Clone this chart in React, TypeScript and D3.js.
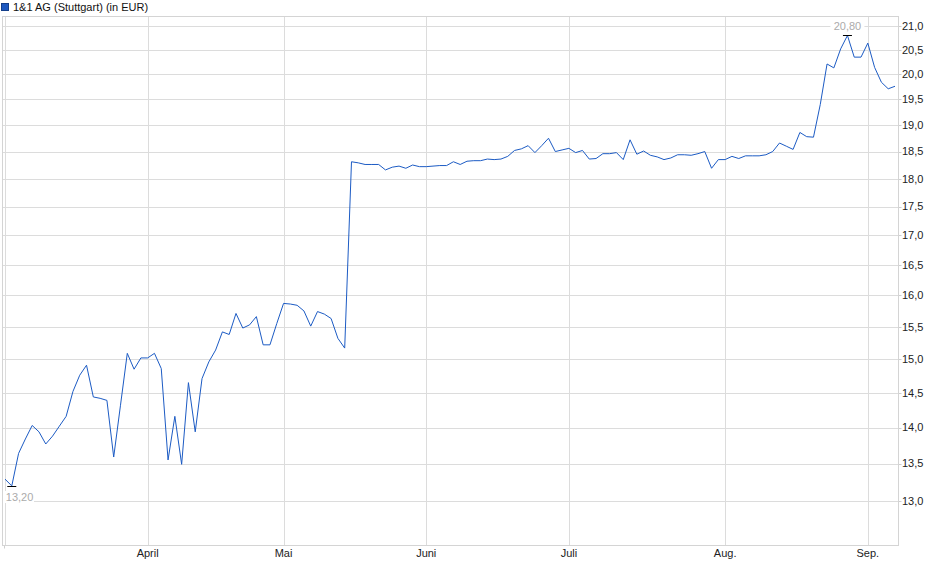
import { useMemo } from 'react';
import * as d3 from 'd3';

// closing prices, one per trading day (3 Mar - 5 Sep)
const prices = [
  13.29, 13.2, 13.64, 13.84, 14.03, 13.94, 13.77, 13.88, 14.02, 14.16,
  14.52, 14.76, 14.91, 14.44, 14.42, 14.39, 13.59, 14.32, 15.09, 14.85,
  15.02, 15.02, 15.09, 14.86, 13.55, 14.16, 13.49, 14.65, 13.94, 14.71,
  14.96, 15.14, 15.42, 15.38, 15.71, 15.48, 15.53, 15.66, 15.22, 15.22,
  15.55, 15.87, 15.86, 15.84, 15.75, 15.51, 15.74, 15.7, 15.63, 15.32,
  15.17, 18.31, 18.29, 18.26, 18.26, 18.26, 18.16, 18.21, 18.23, 18.19,
  18.25, 18.22, 18.22, 18.23, 18.24, 18.24, 18.31, 18.26, 18.32, 18.33,
  18.33, 18.36, 18.35, 18.36, 18.41, 18.52, 18.55, 18.61, 18.48, 18.61,
  18.75, 18.5, 18.53, 18.56, 18.48, 18.52, 18.36, 18.37, 18.46, 18.46,
  18.48, 18.35, 18.72, 18.45, 18.51, 18.43, 18.4, 18.35, 18.38, 18.44,
  18.44, 18.43, 18.46, 18.5, 18.19, 18.35, 18.35, 18.41, 18.37, 18.42,
  18.42, 18.42, 18.44, 18.5, 18.66, 18.6, 18.54, 18.86, 18.78, 18.77,
  19.4, 20.21, 20.13, 20.52, 20.8, 20.35, 20.35, 20.64, 20.14, 19.84,
  19.71, 19.76,
];

// month starts as trading-day index
const monthLabels = ['', 'April', 'Mai', 'Juni', 'Juli', 'Aug.', 'Sep.'];
const monthStarts = [0, 21, 41, 62, 83, 106, 127];

const yTicks = [13, 13.5, 14, 14.5, 15, 15.5, 16, 16.5, 17, 17.5, 18, 18.5, 19, 19.5, 20, 20.5, 21];

const title = '1&1 AG (Stuttgart) (in EUR)';

const W = 940;
const H = 579;
const plot = { left: 2.5, top: 16.5, right: 898.5, bottom: 545.5 };
const font = '"Liberation Sans", Arial, sans-serif';
const fmt = (v: number, d: number) => v.toFixed(d).replace('.', ',');

export default function App() {
  const x = useMemo(() => d3.scaleLinear().domain([0, prices.length - 1]).range([5, 895]), []);
  const y = useMemo(() => d3.scaleLog().domain([12.435, 21.213]).range([545, 16]), []);

  const line = d3.line<number>()
    .x((_, i) => x(i))
    .y(d => y(d));

  const minIdx = d3.minIndex(prices);
  const maxIdx = d3.maxIndex(prices);
  const minX = x(minIdx), minY = y(prices[minIdx]);
  const maxX = x(maxIdx), maxY = y(prices[maxIdx]);

  return (
    <svg width={W} height={H} style={{ position: 'absolute', left: 0, top: 0, background: '#fff' }}
      fontFamily={font} fontSize={11}>
      {/* legend */}
      <rect x={1.5} y={3.5} width={7} height={7} fill="#1d58c0" stroke="#143f8a" />
      <text x={13} y={11} fill="#111">{title}</text>

      {/* horizontal grid + right axis */}
      {yTicks.map(t => (
        <g key={t}>
          <line x1={plot.left} x2={plot.right} y1={Math.round(y(t)) + 0.5} y2={Math.round(y(t)) + 0.5}
            stroke="#dcdcdc" />
          <line x1={plot.right} x2={plot.right + 3} y1={Math.round(y(t)) + 0.5} y2={Math.round(y(t)) + 0.5}
            stroke="#cfcfcf" />
          <text x={902} y={y(t)} dy="0.35em" fill="#222">{fmt(t, 1)}</text>
        </g>
      ))}

      {/* vertical grid at month starts */}
      {monthStarts.map((m, i) => (
        <g key={m}>
          <line x1={Math.round(x(m)) + 0.5} x2={Math.round(x(m)) + 0.5} y1={plot.top} y2={plot.bottom}
            stroke="#dcdcdc" />
          {monthLabels[i] && (
            <text x={x(m)} y={557} textAnchor="middle" fill="#222">{monthLabels[i]}</text>
          )}
        </g>
      ))}
      <line x1={4.5} x2={4.5} y1={plot.bottom} y2={plot.bottom + 3} stroke="#cfcfcf" />

      {/* frame */}
      <rect x={plot.left} y={plot.top} width={plot.right - plot.left} height={plot.bottom - plot.top}
        fill="none" stroke="#d4d4d4" />

      {/* min / max labels */}
      <rect x={3} y={491} width={31} height={12} fill="#fff" />
      <text x={minX - 6} y={501} fill="#ababab">{fmt(prices[minIdx], 2)}</text>
      <rect x={maxX - 17} y={20} width={34} height={11} fill="#fff" />
      <text x={maxX} y={30} textAnchor="middle" fill="#ababab">{fmt(prices[maxIdx], 2)}</text>

      <path d={line(prices) ?? ''} fill="none" stroke="#1c5bc4" strokeWidth={1} strokeLinejoin="round" />

      <line x1={minX - 4.5} x2={minX + 4.5} y1={Math.round(minY) + 0.5} y2={Math.round(minY) + 0.5} stroke="#000" />
      <line x1={maxX - 4.5} x2={maxX + 4.5} y1={Math.round(maxY) + 0.5} y2={Math.round(maxY) + 0.5} stroke="#000" />
    </svg>
  );
}
